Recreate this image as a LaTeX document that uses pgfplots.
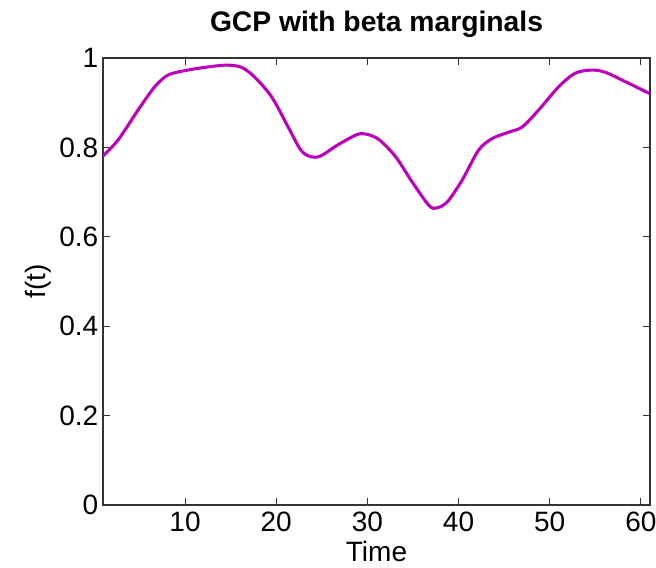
\documentclass[border=0pt]{standalone}
\usepackage{pgfplots}
\pgfplotsset{compat=1.18}
\usepackage{fontspec}
\setmainfont{Liberation Sans}
\definecolor{curve}{RGB}{190,0,190}
\begin{document}
\begin{tikzpicture}[x=1pt,y=1pt]
\path[use as bounding box] (-77.25,-46.5) rectangle (414.75,378.75);
\begin{axis}[
  at={(0,0)}, anchor=south west,
  scale only axis, width=410.25pt, height=335.25pt,
  xmin=1, xmax=61, ymin=0, ymax=1,
  xtick={10,20,30,40,50,60},
  ytick={0,0.2,0.4,0.6,0.8,1},
  yticklabels={0,0.2,0.4,0.6,0.8,1},
  tick align=inside,
  major tick length=5pt,
  axis line style={black!80, line width=0.8pt},
  tick style={black!80, line width=0.6pt},
  /pgf/number format/assume math mode=true,
  tick label style={font=\fontsize{21}{21}\selectfont},
  xlabel={Time}, ylabel={f(t)},
  label style={font=\fontsize{21}{21}\selectfont},
  xlabel style={at={(axis description cs:0.5,-0.103)}, anchor=center},
  ylabel style={at={(axis description cs:-0.118,0.5)}, anchor=center, rotate=0},
  title={GCP with beta marginals},
  title style={font=\bfseries\fontsize{21.2}{21.2}\selectfont, at={(axis description cs:0.5,1.058)}, anchor=center},
  xticklabel style={yshift=-2pt},
]
\addplot[curve, line width=2.3pt, smooth] coordinates {
(1,0.781) (2.67,0.817) (4.86,0.884) (6.69,0.936) (8.15,0.962) (10.3,0.973)
(12.9,0.981) (14.7,0.984) (16.2,0.979) (17.6,0.958) (19.5,0.913) (21.3,0.846)
(22.7,0.794) (23.8,0.779) (24.9,0.781) (26.7,0.805) (28.9,0.829) (30.0,0.829)
(31.3,0.817) (33.1,0.779) (35.0,0.720) (36.8,0.669) (37.7,0.665) (38.8,0.679)
(40.4,0.727) (42.2,0.794) (43.7,0.820) (45.5,0.834) (47.0,0.846) (48.8,0.884)
(51.0,0.936) (52.8,0.966) (54.6,0.973) (56.1,0.968) (58.3,0.947) (60.5,0.925) (61,0.920)
};
\end{axis}
\end{tikzpicture}
\end{document}
